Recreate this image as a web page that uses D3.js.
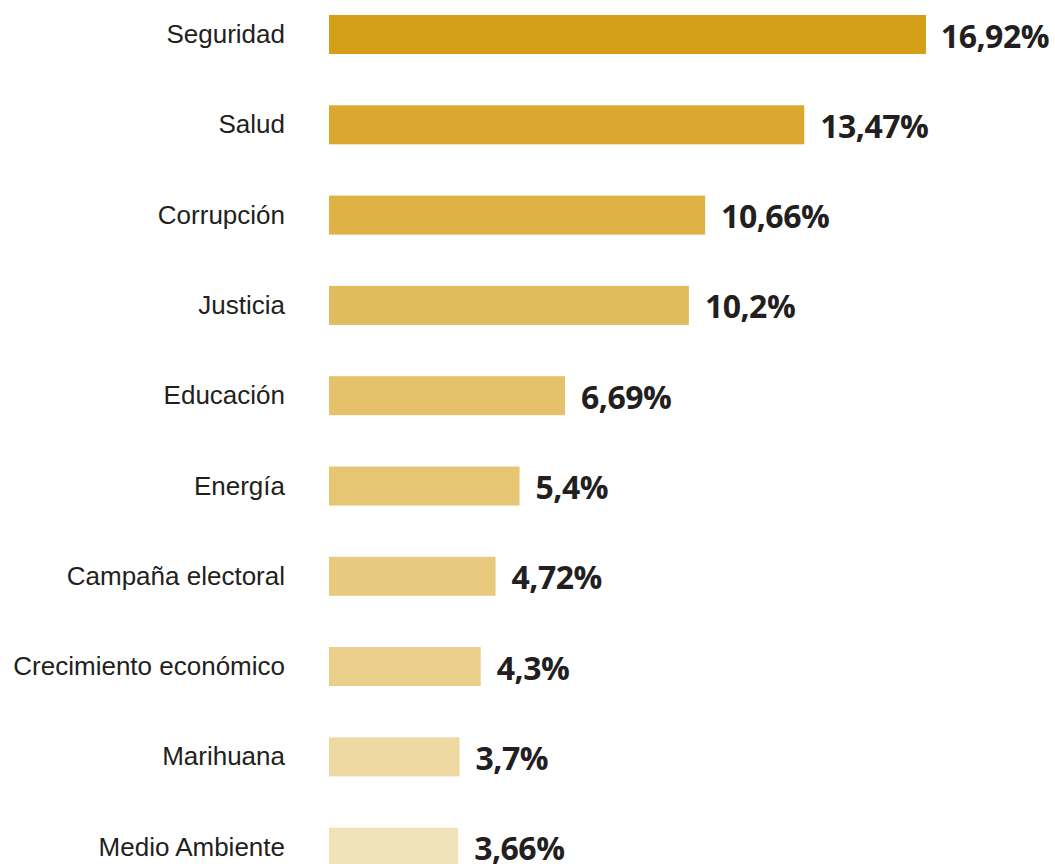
<!DOCTYPE html>
<html>
<head>
<meta charset="utf-8">
<script src="https://cdn.jsdelivr.net/npm/d3@7"></script>
<style>
  html, body { margin: 0; padding: 0; background: #fff; }
  #chart { width: 1055px; height: 864px; overflow: hidden; }
</style>
</head>
<body>
<div id="chart"></div>
<script>
// datos
var temas = ['Seguridad', 'Salud', 'Corrupción', 'Justicia', 'Educación', 'Energía',
  'Campaña electoral', 'Crecimiento económico', 'Marihuana', 'Medio Ambiente']
var porcentajes = [16.92, 13.47, 10.66, 10.2, 6.69, 5.4, 4.72, 4.3, 3.7, 3.66]
var etiquetas = ['16,92%', '13,47%', '10,66%', '10,2%', '6,69%', '5,4%', '4,72%', '4,3%', '3,7%', '3,66%']

var colores = ['#d49e17', '#daa82e', '#deb244', '#e1bc5e', '#e4c16a', '#e6c673',
  '#e7ca7e', '#e9cf89', '#edd9a1', '#f0e2b9']

var width = 1055
var height = 864
var margin = {top: 15, left: 329}
var barH = 39
var step = 90.3

var svg = d3.select('#chart').append('svg')
  .attr('width', width)
  .attr('height', height)

//比例尺
var x = d3.scaleLinear()
  .domain([0, 16.92])
  .range([margin.left, 926])

var y = d3.scaleBand()
  .domain(temas)
  .range([margin.top, margin.top + 9 * step + barH])
  .paddingInner(1 - barH / step)
  .paddingOuter(0)
  .align(0)

var data = temas.map(function (t, i) {
  return {tema: t, valor: porcentajes[i], etiqueta: etiquetas[i], color: colores[i]}
})

svg.selectAll('rect.bar')
  .data(data)
  .enter()
  .append('rect')
  .attr('class', 'bar')
  .attr('x', x(0))
  .attr('y', function (d) { return y(d.tema) })
  .attr('width', function (d) { return x(d.valor) - x(0) })
  .attr('height', y.bandwidth())
  .attr('fill', function (d) { return d.color })

// etiquetas de categoría
svg.selectAll('text.cat')
  .data(data)
  .enter()
  .append('text')
  .attr('class', 'cat')
  .attr('x', 285)
  .attr('y', function (d) { return y(d.tema) + y.bandwidth() / 2 + 8.5 })
  .attr('text-anchor', 'end')
  .attr('fill', '#231f20')
  .style('font-family', '"Liberation Sans", Arial, Helvetica, sans-serif')
  .style('font-size', '26px')
  .text(function (d) { return d.tema })

// valores
svg.selectAll('text.val')
  .data(data)
  .enter()
  .append('text')
  .attr('class', 'val')
  .attr('x', function (d) { return x(d.valor) + 16 })
  .attr('y', function (d) { return y(d.tema) + y.bandwidth() / 2 + 13 })
  .attr('fill', '#231f20')
  .style('font-family', '"Open Sans", sans-serif')
  .style('font-weight', 'bold')
  .style('font-size', '32px')
  .style('letter-spacing', '-0.5px')
  .text(function (d) { return d.etiqueta })
  .each(function () {
    // que no se salga por la derecha
    var w = this.getComputedTextLength()
    var xx = +this.getAttribute('x')
    if (xx + w > width - 6) this.setAttribute('x', width - 6 - w)
  })
</script>
</body>
</html>
